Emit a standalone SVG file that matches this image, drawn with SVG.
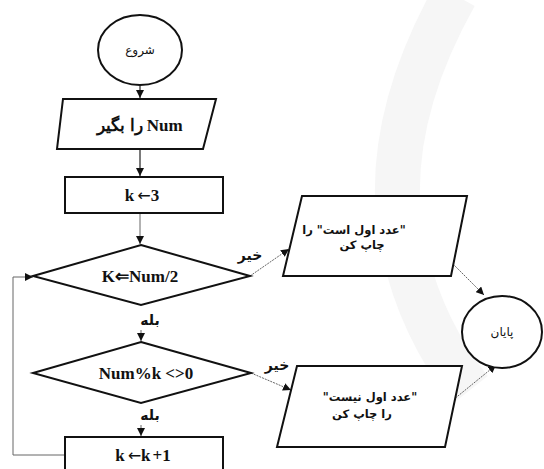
<svg xmlns="http://www.w3.org/2000/svg" width="544" height="469" viewBox="0 0 544 469">
<style>
.shape{fill:#fff;stroke:#111;stroke-width:2}
.conn{fill:none;stroke:#222;stroke-width:1.2}
.connl{fill:none;stroke:#666;stroke-width:1}
.mth{font-family:"Liberation Serif",serif;font-weight:bold;font-size:17px;fill:#111;text-anchor:middle}
.arr{font-family:"DejaVu Sans",sans-serif;font-weight:normal;font-size:16px}
.fa{font-family:"DejaVu Sans",sans-serif;font-size:12px;fill:#111;text-anchor:middle}
.fab{font-family:"DejaVu Sans",sans-serif;font-size:11.5px;font-weight:bold;fill:#111;text-anchor:middle}
.lbl{font-family:"DejaVu Sans",sans-serif;font-weight:bold;font-size:14px;fill:#111;text-anchor:middle}
</style>
<defs>
<marker id="ah" markerWidth="8" markerHeight="8" refX="8" refY="4" orient="auto" markerUnits="userSpaceOnUse">
<path d="M0,0 L8,4 L0,8 Z" fill="#111"/>
</marker>
</defs>
<rect width="544" height="469" fill="#fff"/>
<path d="M455,-5 Q385,120 400,230 Q415,320 470,390" fill="none" stroke="#f6f6f6" stroke-width="45"/>
<g id="connectors">
<line class="conn" x1="140" y1="86" x2="140" y2="98" marker-end="url(#ah)"/>
<line class="conn" x1="140" y1="149" x2="140" y2="176" marker-end="url(#ah)"/>
<line class="connl" x1="140" y1="214" x2="140" y2="244" stroke="#ddd" marker-end="url(#ah)"/>
<line class="connl" x1="141" y1="330" x2="141" y2="341" marker-end="url(#ah)"/>
<line class="connl" x1="141" y1="425" x2="141" y2="436" marker-end="url(#ah)"/>
<polyline class="connl" points="65,455 13,455 13,277 33,277" marker-end="url(#ah)"/>
<line class="connl" x1="250" y1="276" x2="289" y2="249" stroke-dasharray="2,1" marker-end="url(#ah)"/>
<line class="connl" x1="451" y1="262" x2="484" y2="295" stroke-dasharray="2,1" marker-end="url(#ah)"/>
<line class="connl" x1="251" y1="373" x2="291" y2="390" stroke-dasharray="2,1" marker-end="url(#ah)"/>
<line class="connl" x1="453" y1="400" x2="496" y2="365" stroke-dasharray="2,1" marker-end="url(#ah)"/>
<text class="lbl" x="150" y="325">بله</text>
<text class="lbl" x="150" y="420">بله</text>
<text class="lbl" x="250" y="260">خیر</text>
<text class="lbl" x="277" y="370">خیر</text>
</g>
<g id="start">
<ellipse class="shape" cx="140" cy="50" rx="42" ry="35"/>
<text class="fa" x="140" y="54">شروع</text>
</g>
<g id="input">
<polygon class="shape" points="63,99 216,99 203,149 57,149"/>
<text class="mth" x="140" y="131">را بگیر Num</text>
</g>
<g id="init">
<rect class="shape" x="65" y="177" width="158" height="36"/>
<text class="mth" x="142" y="201">k<tspan class="arr" dx="3">←</tspan>3</text>
</g>
<g id="cond1">
<polygon class="shape" points="141,245 250,276 141,305 33,276"/>
<text class="mth" x="140" y="282">K⇐Num/2</text>
</g>
<g id="cond2">
<polygon class="shape" points="141,342 251,373 141,403 33,373"/>
<text class="mth" x="146" y="379">Num%k &lt;&gt;0</text>
</g>
<g id="inc">
<rect class="shape" x="65" y="437" width="158" height="40"/>
<text class="mth" x="143" y="461">k<tspan class="arr" dx="3">←</tspan>k<tspan dx="2">+1</tspan></text>
</g>
<g id="prime">
<polygon class="shape" points="302,196 467,196 451,276 283,276"/>
<text class="fab" x="354" y="234" style="direction:rtl">"عدد اول است" را</text>
<text class="fab" x="362" y="249" style="direction:rtl">چاپ کن</text>
</g>
<g id="notprime">
<polygon class="shape" points="297,366 462,366 445,447 277,447"/>
<text class="fab" x="370" y="401" style="direction:rtl">"عدد اول نیست"</text>
<text class="fab" x="362" y="418" style="direction:rtl">را چاپ کن</text>
</g>
<g id="end">
<ellipse class="shape" cx="502" cy="332" rx="40" ry="36"/>
<text class="fa" x="502" y="336">پایان</text>
</g>
</svg>
